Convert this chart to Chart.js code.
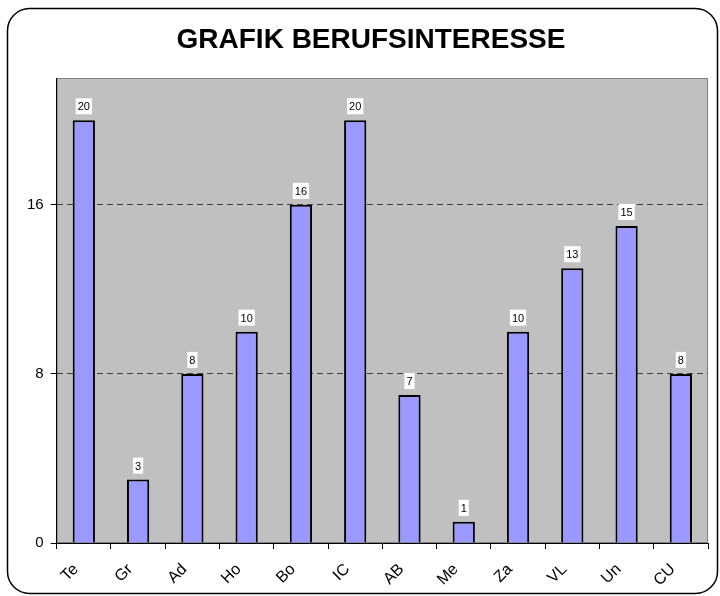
<!DOCTYPE html>
<html>
<head>
<meta charset="utf-8">
<script src="https://cdn.jsdelivr.net/npm/chart.js@4.4.1/dist/chart.umd.min.js"></script>
<style>
  body { margin: 0; background: #fff; }
</style>
</head>
<body>
<canvas id="chart" width="720" height="596"></canvas>
<script>
const categories = ['Te', 'Gr', 'Ad', 'Ho', 'Bo', 'IC', 'AB', 'Me', 'Za', 'VL', 'Un', 'CU'];
const values = [20, 3, 8, 10, 16, 20, 7, 1, 10, 13, 15, 8];
const yTicks = [0, 8, 16];
const yMax = 22;
const chartTitle = 'GRAFIK BERUFSINTERESSE';

const FONT = '"Liberation Sans", Arial, sans-serif';

// frame, grey plot area and the title
const framePlugin = {
    id: 'frame',
    beforeDraw(chart) {
        const {ctx, chartArea: a} = chart;
        ctx.save();
        ctx.fillStyle = '#fff';
        ctx.fillRect(0, 0, chart.width, chart.height);
        ctx.beginPath();
        ctx.roundRect(7.5, 8.5, 710, 585, 22);
        ctx.lineWidth = 1.5;
        ctx.strokeStyle = '#000';
        ctx.stroke();
        ctx.fillStyle = '#c0c0c0';
        ctx.fillRect(a.left, a.top, a.right - a.left, a.bottom - a.top);
        ctx.strokeStyle = '#808080';
        ctx.lineWidth = 1;
        ctx.strokeRect(a.left + 0.5, a.top + 0.5, a.right - a.left - 1, a.bottom - a.top - 1);
        ctx.fillStyle = '#000';
        ctx.font = 'bold 28px ' + FONT;
        ctx.textAlign = 'center';
        ctx.textBaseline = 'middle';
        ctx.fillText(chartTitle, 371, 40);
        ctx.restore();
    }
};

// value boxes above each bar
const valueLabels = {
    id: 'valueLabels',
    afterDatasetsDraw(chart) {
        const {ctx} = chart;
        const meta = chart.getDatasetMeta(0);
        ctx.save();
        ctx.font = '11px ' + FONT;
        ctx.textAlign = 'center';
        ctx.textBaseline = 'middle';
        meta.data.forEach((bar, i) => {
            const txt = String(values[i]);
            const w = ctx.measureText(txt).width + 4;
            const h = 16;
            const cy = bar.y - 6 - h / 2;
            ctx.fillStyle = '#fff';
            ctx.fillRect(bar.x - w / 2, cy - h / 2, w, h);
            ctx.fillStyle = '#000';
            ctx.fillText(txt, bar.x, cy + 1);
        });
        ctx.restore();
    }
};

new Chart(document.getElementById('chart'), {
    type: 'bar',
    data: {
        labels: categories,
        datasets: [{
            data: values,
            backgroundColor: '#9999ff',
            borderColor: '#000',
            borderWidth: 2,
            barPercentage: 0.41,
            categoryPercentage: 1
        }]
    },
    options: {
        responsive: false,
        animation: false,
        layout: { padding: { left: 20, right: 12, top: 78, bottom: 0 } },
        plugins: {
            legend: { display: false },
            tooltip: { enabled: false },
            title: { display: false }
        },
        scales: {
            x: {
                afterFit(scale) {
                    scale.height = 53;
                },
                grid: {
                    display: true,
                    drawOnChartArea: false,
                    offset: true,
                    tickLength: 6,
                    tickColor: '#000'
                },
                border: { color: '#000', width: 1 },
                ticks: {
                    color: '#000',
                    font: { family: FONT, size: 16 },
                    maxRotation: 45,
                    minRotation: 45,
                    padding: 11,
                    labelOffset: -8
                }
            },
            y: {
                min: 0,
                max: yMax,
                afterBuildTicks(scale) {
                    scale.ticks = yTicks.map(v => ({ value: v }));
                },
                grid: {
                    color: ctx => ctx.tick && ctx.tick.value === 0 ? 'rgba(0,0,0,0)' : '#404040',
                    tickColor: '#000',
                    tickLength: 6
                },
                border: { color: '#000', width: 1, dash: [6, 4] },
                ticks: {
                    color: '#000',
                    font: { family: FONT, size: 15 },
                    padding: 7
                }
            }
        }
    },
    plugins: [framePlugin, valueLabels]
});
</script>
</body>
</html>
